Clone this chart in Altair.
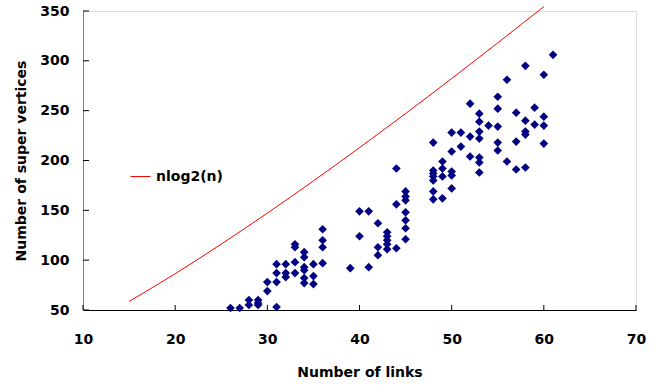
import altair as alt
import pandas as pd

# Scatter data
links = [26, 27, 28, 28, 29, 29, 29, 30, 30,
         31, 31, 31, 31, 32, 32, 32, 33, 33, 33, 33,
         34, 34, 34, 34, 34, 34, 35, 35, 35, 36, 36, 36, 36,
         39, 40, 40, 41, 41, 42, 42, 42, 43, 43, 43, 43, 43,
         44, 44, 44, 45, 45, 45, 45, 45, 45, 45,
         48, 48, 48, 48, 48, 48, 48, 49, 49, 49, 49,
         50, 50, 50, 50, 50, 51, 51, 52, 52, 52,
         53, 53, 53, 53, 53, 53, 53, 54, 55, 55, 55, 55, 55,
         56, 56, 57, 57, 57, 58, 58, 58, 58, 58, 59, 59,
         60, 60, 60, 60, 61]
vertices = [52, 52, 60, 55, 60, 57, 55, 78, 69,
            96, 87, 78, 53, 96, 87, 83, 116, 113, 98, 87,
            108, 103, 93, 90, 82, 77, 96, 84, 76, 131, 120, 113, 97,
            92, 149, 124, 149, 93, 137, 113, 105, 128, 124, 120, 116, 111,
            192, 156, 112, 169, 164, 160, 148, 140, 132, 121,
            218, 190, 187, 184, 180, 169, 161, 199, 192, 184, 162,
            228, 209, 189, 185, 172, 228, 214, 257, 224, 204,
            247, 239, 229, 222, 203, 198, 188, 235, 264, 252, 234, 218, 210,
            281, 199, 248, 219, 191, 295, 240, 229, 226, 193, 253, 236,
            286, 244, 235, 217, 306]

# Reference curve nlog2(n), values read at n = 15..60
curve_n = [15, 20, 25, 30, 35, 40, 45, 50, 55, 60]
curve_v = [58.6, 86.4, 116.1, 147.2, 179.5, 212.9, 247.1, 282.2, 318.0, 354.4]
series_name = "nlog2(n)"

x_ticks = [10, 20, 30, 40, 50, 60, 70]
y_ticks = [50, 100, 150, 200, 250, 300, 350]

FONT = "DejaVu Sans"
FS = 14

pts = pd.DataFrame({"links": links, "vertices": vertices})
curve = pd.DataFrame({"n": curve_n, "v": curve_v, "series": [series_name] * len(curve_n)})
xt = pd.DataFrame({"t": x_ticks})
yt = pd.DataFrame({"t": y_ticks})

xs = alt.Scale(domain=[10, 70], nice=False, zero=False)
ys = alt.Scale(domain=[50, 350], nice=False, zero=False)

xaxis = alt.Axis(values=x_ticks, title="Number of links", grid=False, ticks=False,
                 domainColor="black", domainWidth=1, labelPadding=22, titlePadding=19,
                 labelFont=FONT, labelFontSize=FS, labelFontWeight="bold", labelColor="black",
                 titleFont=FONT, titleFontSize=FS, titleFontWeight="bold", titleColor="black",
                 labelFlush=False)
yaxis = alt.Axis(values=y_ticks, title="Number of super vertices", grid=False, ticks=False,
                 domainColor="#808080", domainWidth=1, labelPadding=14, titlePadding=11,
                 labelFont=FONT, labelFontSize=FS, labelFontWeight="bold", labelColor="black",
                 titleFont=FONT, titleFontSize=FS, titleFontWeight="bold", titleColor="black",
                 labelFlush=False)

points = alt.Chart(pts).mark_point(shape="diamond", filled=True, size=75, color="#000080", opacity=1).encode(
    x=alt.X("links:Q", scale=xs, axis=xaxis),
    y=alt.Y("vertices:Q", scale=ys, axis=yaxis),
)

line = alt.Chart(curve).mark_line(strokeWidth=1, interpolate="monotone", clip=False).encode(
    x=alt.X("n:Q", scale=xs, axis=xaxis),
    y=alt.Y("v:Q", scale=ys, axis=yaxis),
    color=alt.Color("series:N", scale=alt.Scale(range=["#ff0000"]),
                    legend=alt.Legend(orient="none", legendX=47, legendY=155, title=None,
                                      symbolType="stroke", symbolSize=400, symbolStrokeWidth=1,
                                      labelFont=FONT, labelFontSize=FS, labelFontWeight="bold",
                                      labelColor="black", padding=0, labelOffset=5)),
)

xticks = alt.Chart(xt).mark_rule(color="black", strokeWidth=1).encode(
    x=alt.X("t:Q", scale=xs, axis=xaxis),
    y=alt.value(299),
    y2=alt.value(294),
)
yticks = alt.Chart(yt).mark_rule(color="black", strokeWidth=1).encode(
    y=alt.Y("t:Q", scale=ys, axis=yaxis),
    x=alt.value(0),
    x2=alt.value(6),
)

chart = alt.layer(line, yticks, xticks, points).properties(
    width=553, height=299,
    padding={"left": 83, "top": 11, "right": 25, "bottom": 75},
    autosize="none",
).configure_view(stroke=None).configure(background="white")

chart.save("out.html", embed_options={"renderer": "svg", "actions": False})
